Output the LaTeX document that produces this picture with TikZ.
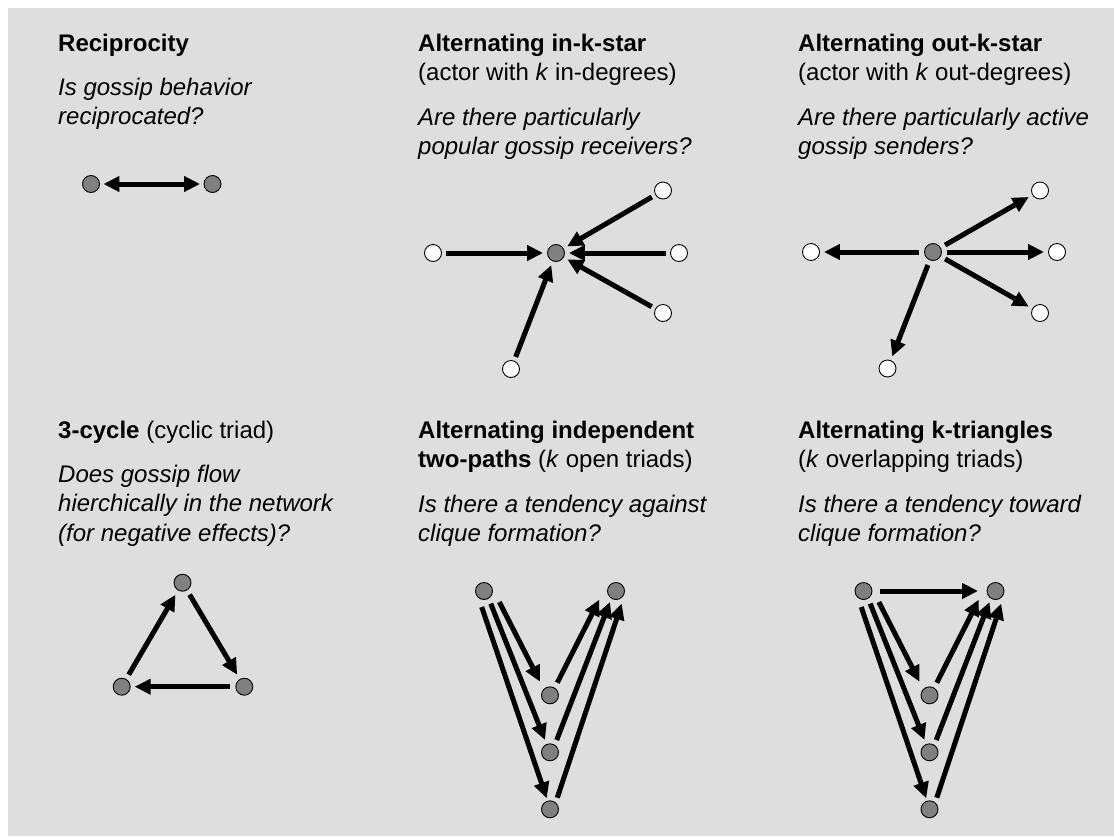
\documentclass[tikz,border=0pt]{standalone}
\usepackage{fontspec}
\setmainfont{Liberation Sans}
\usetikzlibrary{arrows.meta,calc}
\definecolor{bggray}{RGB}{222,222,222}
\definecolor{nodegray}{RGB}{128,128,128}
\begin{document}
\begin{tikzpicture}[x=1pt,y=-1pt,
  dot/.style={circle,draw=black,line width=0.9pt,fill=nodegray,minimum size=17pt,inner sep=0pt},
  odot/.style={dot,fill=white},
  tip/.tip={Triangle[length=16pt,width=15pt]},
  arr/.style={-tip,line width=5pt},
  darr/.style={tip-tip,line width=5pt},
  txt/.style={anchor=base west,inner sep=0pt,font=\fontsize{24}{29.5}\selectfont},
  ttl/.style={txt,font=\fontsize{24}{29.5}\selectfont\bfseries},
  qst/.style={txt,font=\fontsize{24}{29.5}\selectfont\itshape}]
\useasboundingbox (0,0) rectangle (1114,836);
\fill[bggray] (8,8) rectangle (1114,836);

% ---------- texts row 1
\node[ttl] (r1a) at (58,51) {Reciprocity};
\node[qst] (r1q1) at (58,95) {Is gossip behavior};
\node[qst] (r1q2) at (58,124.5) {reciprocated?};
\node[ttl] (i1a) at (418,51) {Alternating in-k-star};
\node[txt] (i1b) at (418,80.5) {(actor with \textit{k} in-degrees)};
\node[qst] (i1q1) at (418,125) {Are there particularly};
\node[qst] (i1q2) at (418,154.5) {popular gossip receivers?};
\node[ttl] (o1a) at (798,51) {Alternating out-k-star};
\node[txt] (o1b) at (798,80.5) {(actor with \textit{k} out-degrees)};
\node[qst] (o1q1) at (798,125) {Are there particularly active};
\node[qst] (o1q2) at (798,154.5) {gossip senders?};
% ---------- texts row 2
\node[txt] (c2a) at (58,438) {\textbf{3-cycle} (cyclic triad)};
\node[qst] (c2q1) at (58,482) {Does gossip flow};
\node[qst] (c2q2) at (58,511.5) {hierchically in the network};
\node[qst] (c2q3) at (58,541) {(for negative effects)?};
\node[ttl] (v2a) at (418,438) {Alternating independent};
\node[txt] (v2b) at (418,467.5) {\textbf{two-paths} (\textit{k} open triads)};
\node[qst] (v2q1) at (418,512) {Is there a tendency against};
\node[qst] (v2q2) at (418,541.5) {clique formation?};
\node[ttl] (k2a) at (798,438) {Alternating k-triangles};
\node[txt] (k2b) at (798,467.5) {(\textit{k} overlapping triads)};
\node[qst] (k2q1) at (798,512) {Is there a tendency toward};
\node[qst] (k2q2) at (798,541.5) {clique formation?};

% ---------- reciprocity
\node[dot] (rA) at (91,184) {};
\node[dot] (rB) at (212.5,184) {};
\draw[darr,shorten <=3.5pt,shorten >=3.5pt] (rA) -- (rB);

% ---------- in-star
\node[dot] (ic) at (556,253) {};
\node[odot] (ia) at (433,253) {};
\node[odot] (ib) at (663,190.5) {};
\node[odot] (ic2) at (679,253) {};
\node[odot] (id) at (663,313) {};
\node[odot] (ie) at (511,369) {};
\foreach \n in {ia,ib,ic2,id,ie}
  \draw[arr,shorten <=4pt,shorten >=4pt] (\n) -- (ic);

% ---------- out-star
\node[dot] (oc) at (933,252) {};
\node[odot] (oa) at (811,252) {};
\node[odot] (ob) at (1040,190.5) {};
\node[odot] (oc2) at (1057,252) {};
\node[odot] (od) at (1040,313) {};
\node[odot] (oe) at (887.5,368.5) {};
\foreach \n in {oa,ob,oc2,od,oe}
  \draw[arr,shorten <=5pt,shorten >=4pt] (oc) -- (\n);

% ---------- 3-cycle
\node[dot] (ta) at (182.5,582.7) {};
\node[dot] (tb) at (121.7,686.7) {};
\node[dot] (tc) at (244.3,686.7) {};
\draw[arr,shorten <=5pt,shorten >=5pt] (tb) -- (ta);
\draw[arr,shorten <=5pt,shorten >=5pt] (ta) -- (tc);
\draw[arr,shorten <=5pt,shorten >=4pt] (tc) -- (tb);

% ---------- independent two-paths
\node[dot] (vtl) at (484,591) {};
\node[dot] (vtr) at (616,591) {};
\node[dot] (vm1) at (550,695.3) {};
\node[dot] (vm2) at (550,752.3) {};
\node[dot] (vm3) at (550,809.3) {};
\draw[arr] ($(vtl)+(15.3,11)$) -- ($(vm1)+(-10,-13.6)$);
\draw[arr] ($(vtl)+(6.7,12.6)$) -- ($(vm2)+(-5,-12.3)$);
\draw[arr] ($(vtl)+(-2.3,16)$) -- ($(vm3)+(-3.3,-11)$);
\draw[arr] ($(vm1)+(7.3,-12.6)$) -- ($(vtr)+(-16.7,8.6)$);
\draw[arr] ($(vm2)+(6.7,-12.3)$) -- ($(vtr)+(-6,11)$);
\draw[arr] ($(vm3)+(7.3,-11.6)$) -- ($(vtr)+(5.7,12.6)$);

% ---------- k-triangles
\node[dot] (ktl) at (863.5,591) {};
\node[dot] (ktr) at (995.5,591) {};
\node[dot] (km1) at (929.5,695.3) {};
\node[dot] (km2) at (929.5,752.3) {};
\node[dot] (km3) at (929.5,809.3) {};
\draw[arr,shorten <=8pt,shorten >=8.5pt] (ktl) -- (ktr);
\draw[arr] ($(ktl)+(15.3,11)$) -- ($(km1)+(-10,-13.6)$);
\draw[arr] ($(ktl)+(6.7,12.6)$) -- ($(km2)+(-5,-12.3)$);
\draw[arr] ($(ktl)+(-2.3,16)$) -- ($(km3)+(-3.3,-11)$);
\draw[arr] ($(km1)+(7.3,-12.6)$) -- ($(ktr)+(-16.7,8.6)$);
\draw[arr] ($(km2)+(6.7,-12.3)$) -- ($(ktr)+(-6,11)$);
\draw[arr] ($(km3)+(7.3,-11.6)$) -- ($(ktr)+(5.7,12.6)$);
\end{tikzpicture}
\end{document}
